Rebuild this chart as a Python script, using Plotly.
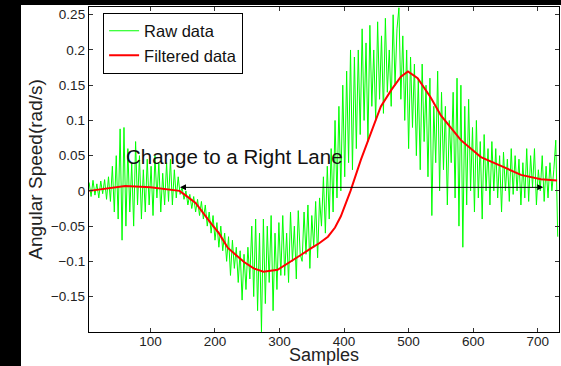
import plotly.graph_objects as go

# ---------------- data ----------------
raw_start, raw_stop, raw_step = 5, 732, 3
raw_values = [
    0.012, -0.008, 0.015, -0.006, 0.010, -0.010, 0.014, -0.004, 0.016, -0.012,
    0.02, -0.015, 0.035, -0.03, 0.05, -0.04, 0.088, -0.07, 0.09, -0.05,
    0.06, -0.03, 0.04, -0.05, 0.07, -0.02, 0.05, -0.04, 0.03, -0.03,
    0.045, -0.02, 0.035, -0.035, 0.05, -0.01, 0.04, -0.03, 0.025, -0.02,
    0.04, -0.015, 0.045, -0.02, 0.03, -0.01, 0.02, -0.005, 0.005, -0.012,
    0.0, -0.02, -0.005, -0.025, -0.008, -0.03, -0.012, -0.035, -0.015, -0.04,
    -0.02, -0.05, -0.03, -0.06, -0.035, -0.07, -0.045, -0.08, -0.05, -0.085,
    -0.06, -0.1, -0.065, -0.12, -0.07, -0.11, -0.08, -0.13, -0.085, -0.155,
    -0.09, -0.14, -0.08, -0.125, -0.05, -0.15, -0.04, -0.17, -0.06, -0.2,
    -0.04, -0.16, -0.05, -0.13, -0.035, -0.17, -0.06, -0.14, -0.045, -0.12,
    -0.035, -0.12, -0.06, -0.13, -0.03, -0.1, -0.05, -0.125, -0.028, -0.09,
    -0.1, -0.03, -0.09, -0.02, -0.11, -0.035, -0.08, -0.015, -0.095, -0.01,
    -0.05, 0.02, -0.06, 0.035, -0.04, 0.06, -0.03, 0.1, -0.01, 0.12,
    0.0, 0.15, 0.02, 0.17, 0.04, 0.2, 0.03, 0.19, 0.06, 0.2,
    0.08, 0.23, 0.1, 0.21, 0.07, 0.235, 0.12, 0.2, 0.1, 0.24,
    0.13, 0.22, 0.11, 0.245, 0.14, 0.2, 0.12, 0.25, 0.15, 0.23,
    0.26, 0.13, 0.22, 0.1, 0.2, 0.06, 0.19, 0.09, 0.18, 0.05,
    0.16, 0.03, 0.18, 0.07, 0.15, 0.02, 0.16, -0.035, 0.12, 0.04,
    0.17, 0.0, 0.14, 0.03, 0.12, -0.02, 0.1, 0.04, 0.14, -0.01,
    0.16, -0.05, 0.15, -0.08, 0.12, -0.02, 0.13, 0.0, 0.09, -0.03,
    0.1, -0.01, 0.07, -0.04, 0.08, 0.0, 0.06, -0.02, 0.07, 0.0,
    0.06, -0.01, 0.05, -0.03, 0.055, 0.0, 0.045, -0.015, 0.06, -0.005,
    0.05, 0.0, 0.045, -0.02, 0.04, -0.01, 0.06, -0.015, 0.05, 0.005,
    0.06, -0.02, 0.03, 0.0, 0.05, -0.015, 0.035, -0.01, 0.04, 0.0,
    0.03, 0.072, -0.065,
]
raw_x = list(range(raw_start, raw_stop, raw_step))

filt_x = [5, 30, 61, 100, 128, 145, 154, 170, 193, 206, 220, 245, 260, 275,
          297, 322, 333, 348, 362, 375, 386, 395, 403, 410, 426, 441, 457,
          473, 488, 499, 514, 534, 550, 581, 612, 643, 674, 705, 730]
filt_y = [0.0, 0.003, 0.007, 0.005, 0.0024, 0.0, -0.006, -0.017, -0.045,
          -0.06, -0.081, -0.101, -0.110, -0.1146, -0.112, -0.098, -0.091,
          -0.082, -0.074, -0.065, -0.052, -0.036, -0.018, 0.0, 0.044, 0.082,
          0.12, 0.143, 0.162, 0.1695, 0.160, 0.133, 0.107, 0.072, 0.048,
          0.0355, 0.0227, 0.0166, 0.0146]

x_ticks = [100, 200, 300, 400, 500, 600, 700]
y_ticks = [-0.15, -0.1, -0.05, 0, 0.05, 0.1, 0.15, 0.2, 0.25]
y_ticktext = ["\u22120.15", "\u22120.1", "\u22120.05", "0", "0.05", "0.1", "0.15", "0.2", "0.25"]

x_title = "Samples"
y_title = "Angular Speed(rad/s)"
annot_text = "Change to a Right Lane"
annot_pos = (230, 0.049)
arrow_start = (143.5, 0.005)
arrow_end = (708.7, 0.005)

# ---------------- figure ----------------
FONT = "Liberation Sans, Arial, Helvetica, sans-serif"
fig = go.Figure()
fig.add_trace(go.Scatter(x=raw_x, y=raw_values, mode="lines", name="Raw data",
                         line=dict(color="#00ff00", width=1)))
fig.add_trace(go.Scatter(x=filt_x, y=filt_y, mode="lines", name="Filtered data",
                         line=dict(color="#ff0000", width=2)))

axis_common = dict(showgrid=False, zeroline=False, showline=True, linecolor="black",
                   linewidth=1.3, mirror="ticks", ticks="inside", ticklen=4,
                   tickcolor="#333333", tickfont=dict(size=13.5, color="#222222", family=FONT))
fig.update_xaxes(range=[4.8, 733], tickvals=x_ticks, ticklabelstandoff=-3, **axis_common)
fig.update_yaxes(range=[-0.2003, 0.261], tickvals=y_ticks, ticktext=y_ticktext,
                 title=dict(text=y_title, font=dict(size=19, color="#222222", family=FONT),
                            standoff=3),
                 **axis_common)

W, H = 470, 325
# x-axis title placed just under the tick labels (as in the reference)
fig.add_annotation(x=0.5, y=-34 / H, xref="paper", yref="paper",
                   text=x_title, showarrow=False, yanchor="bottom", borderpad=0,
                   font=dict(size=18, color="#222222", family=FONT))

fig.add_annotation(x=annot_pos[0], y=annot_pos[1], text=annot_text, showarrow=False,
                   font=dict(size=20.5, color="#111111", family=FONT))
fig.add_annotation(x=arrow_end[0], y=arrow_end[1], ax=arrow_start[0], ay=arrow_start[1],
                   xref="x", yref="y", axref="x", ayref="y", text="", showarrow=True,
                   arrowside="end+start", arrowhead=2, startarrowhead=2, arrowsize=1.2,
                   startarrowsize=1.2, arrowwidth=1, arrowcolor="black")

fig.add_shape(type="rect", xref="paper", yref="paper", x0=-89 / W, x1=(21 - 89) / W,
              y0=-34 / H, y1=1 + 7 / H, fillcolor="black", line_width=0, layer="above")
fig.add_shape(type="rect", xref="paper", yref="paper", x0=-89 / W, x1=1 + 2 / W,
              y0=1 + 2 / H, y1=1 + 7 / H, fillcolor="black", line_width=0, layer="above")

fig.update_layout(
    width=561, height=366,
    margin=dict(l=89, r=2, t=7, b=34),
    paper_bgcolor="white", plot_bgcolor="white",
    font=dict(family=FONT, color="#222222"),
    showlegend=True,
    legend=dict(x=0.03, y=0.983, xanchor="left", yanchor="top",
                bgcolor="white", bordercolor="black", borderwidth=1,
                font=dict(size=16.5, family=FONT, color="#111111"),
                itemwidth=30, tracegroupgap=0),
)

fig.write_html("out.html")
